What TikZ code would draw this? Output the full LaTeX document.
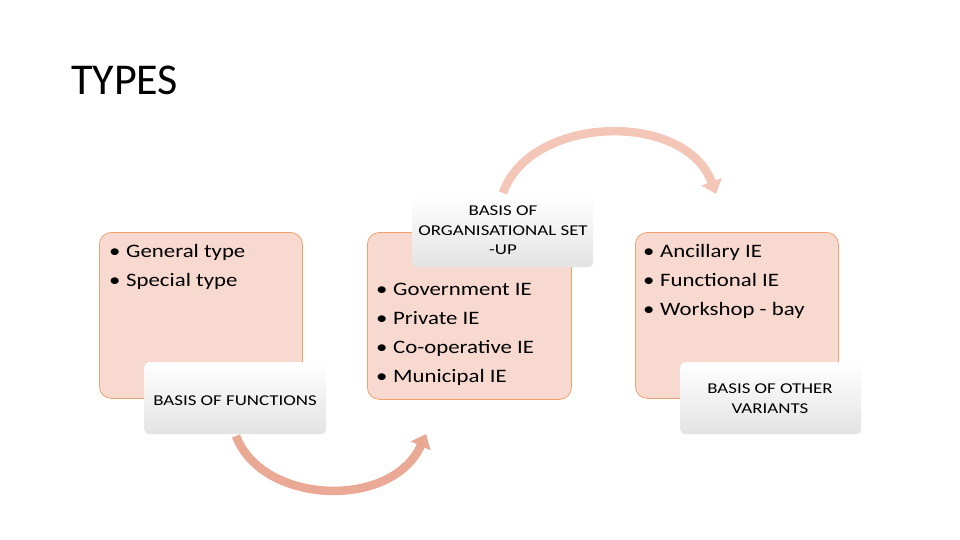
\documentclass[tikz,border=0pt]{standalone}
\usepackage{fontspec}
\setmainfont{Carlito}
\newfontfamily\widebody[FakeStretch=1.2]{Carlito}
\newfontfamily\widelabel[FakeStretch=1.26]{Carlito}
\usetikzlibrary{arrows.meta}
\definecolor{boxfill}{HTML}{F8D9CF}
\definecolor{boxline}{HTML}{EFA26F}
\definecolor{arrowA}{HTML}{E9A994}
\definecolor{arrowB}{HTML}{F4C6B7}
\tikzset{
  contentbox/.style={draw=boxline, line width=0.8pt, fill=boxfill, rounded corners=12pt},
  labelbox/.style={rounded corners=5pt, top color=white, bottom color=black!11, draw=none},
  bulletline/.style={font=\widebody\fontsize{19}{19}\selectfont, anchor=base west, inner sep=0pt},
  labeltext/.style={font=\widelabel\fontsize{15}{15}\selectfont, anchor=base, inner sep=0pt},
  cyclearrow/.style={line width=8.5pt, -{Triangle[width=21pt,length=13pt]}},
}
\newcommand{\bul}{\makebox[17pt][l]{•}}
\begin{document}
\begin{tikzpicture}[x=1pt,y=-1pt]
\useasboundingbox (0,0) rectangle (960,540);
\fill[white] (0,0) rectangle (960,540);
% title
\node[anchor=west, inner sep=0pt, font=\fontsize{44}{44}\selectfont] (title) at (71,80) {TYPES};
% content boxes
\node[contentbox, minimum width=203pt, minimum height=166pt, anchor=north west] (b1) at (99,232) {};
\node[contentbox, minimum width=204pt, minimum height=167pt, anchor=north west] (b2) at (367,232) {};
\node[contentbox, minimum width=203pt, minimum height=166pt, anchor=north west] (b3) at (635,232) {};
% bullet texts
\node[bulletline] (t1a) at (109,257) {\bul General type};
\node[bulletline] (t1b) at (109,286) {\bul Special type};
\node[bulletline] (t2a) at (376,295) {\bul Government IE};
\node[bulletline] (t2b) at (376,324) {\bul Private IE};
\node[bulletline] (t2c) at (376,353) {\bul Co-operative IE};
\node[bulletline] (t2d) at (376,382) {\bul Municipal IE};
\node[bulletline] (t3a) at (643,257) {\bul Ancillary IE};
\node[bulletline] (t3b) at (643,286) {\bul Functional IE};
\node[bulletline] (t3c) at (643,315) {\bul Workshop - bay};
% label boxes
\node[labelbox, minimum width=182pt, minimum height=72pt, anchor=north west] (l1) at (144,362) {};
\node[labelbox, minimum width=181pt, minimum height=72pt, anchor=north west] (l2) at (412,195) {};
\node[labelbox, minimum width=181pt, minimum height=72pt, anchor=north west] (l3) at (680,362) {};
\node[labeltext] (lt1) at (235,405) {BASIS OF FUNCTIONS};
\node[labeltext] (lt2a) at (503,215) {BASIS OF};
\node[labeltext] (lt2b) at (503,235) {ORGANISATIONAL SET};
\node[labeltext] (lt2c) at (503,254) {-UP};
\node[labeltext] (lt3a) at (770,393) {BASIS OF OTHER};
\node[labeltext] (lt3b) at (770,413) {VARIANTS};
% arrows
\coordinate (a1s) at (236,436);
\coordinate (a1e) at (426,434);
\draw[cyclearrow, draw=arrowA] (a1s) .. controls (262,505) and (392,510) .. (a1e);
\coordinate (a2s) at (503,193);
\coordinate (a2e) at (716,194);
\draw[cyclearrow, draw=arrowB] (a2s) .. controls (530,115) and (685,110) .. (a2e);
\end{tikzpicture}
\end{document}
